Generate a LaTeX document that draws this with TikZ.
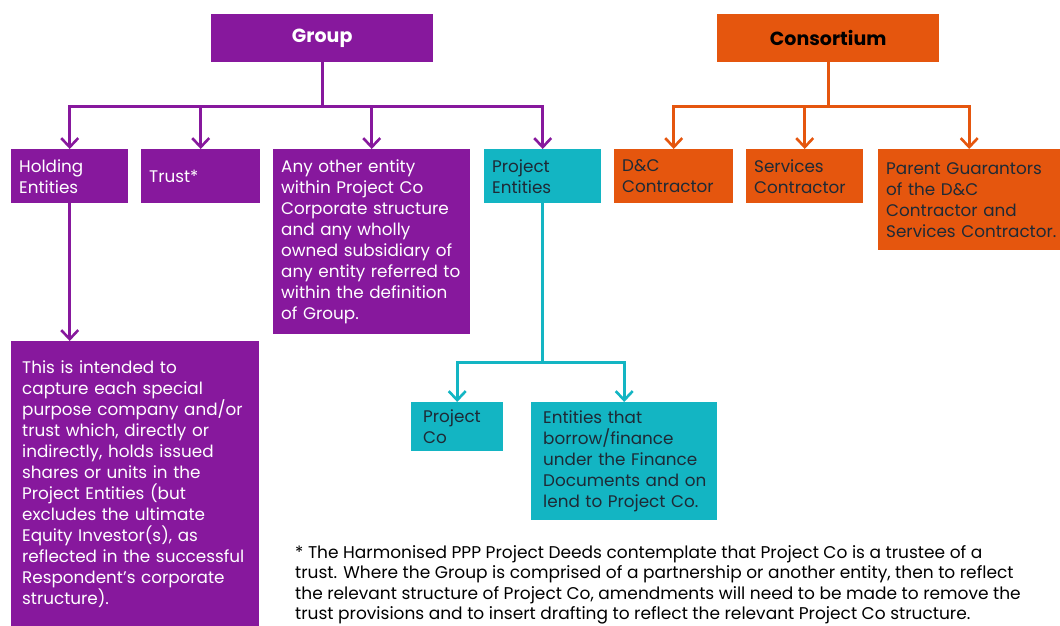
\documentclass[tikz,border=0pt]{standalone}
\usepackage{fontspec}
\setmainfont{Poppins}
\usetikzlibrary{arrows.meta}
\definecolor{vicpurple}{HTML}{87189D}
\definecolor{vicorange}{HTML}{E5560E}
\definecolor{victeal}{HTML}{13B5C3}
\definecolor{darktext}{HTML}{1E2A36}
\tikzset{
	box/.style={anchor=north west, inner xsep=8pt, inner ysep=0pt, align=left,
		font=\fontsize{16.8}{21}\selectfont},
	pbox/.style={box, fill=vicpurple, text=white},
	tbox/.style={box, fill=victeal, text=darktext},
	obox/.style={box, fill=vicorange, text=darktext},
	headbox/.style={anchor=north west, inner sep=0pt, minimum width=222pt, minimum height=48pt,
		font=\fontsize{19}{21}\selectfont\bfseries},
	link/.style={line width=2.6pt, -{Straight Barb[length=9pt,width=17pt]}},
	parr/.style={link, draw=vicpurple},
	tarr/.style={link, draw=victeal},
	oarr/.style={link, draw=vicorange}
}
\begin{document}
\begin{tikzpicture}[x=1pt, y=-1pt]
		\useasboundingbox (0, 0) rectangle (1060, 626);
		% top level
		\node[headbox, fill=vicpurple, text=white] (grp) at (211, 14) {Group};
		\node[headbox, fill=vicorange, text=black] (cons) at (717, 14) {Consortium};
		% group members
		\node[pbox, text width=101pt, minimum height=54pt] (hold) at (11, 149) {Holding\\Entities};
		\node[pbox, text width=103pt, minimum height=54pt] (trust) at (141, 149) {Trust*};
		\node[pbox, text width=181pt, minimum height=185pt] (other) at (273, 149)
			{Any other entity\\within Project Co\\Corporate structure\\and any wholly\\owned subsidiary of\\\mbox{any entity referred to}\\within the definition\\of Group.};
		\node[tbox, text width=101pt, minimum height=54pt] (proj) at (484, 149) {Project\\Entities};
		\node[pbox, inner xsep=11pt, text width=226pt, minimum height=285pt] (desc) at (11, 341)
			{This is intended to\\capture each special\\purpose company and/or\\trust which, directly or\\indirectly, holds issued\\shares or units in the\\Project Entities (but\\excludes the ultimate\\Equity Investor(s), as\\\mbox{reflected in the successful}\\Respondent's corporate\\structure).};
		\node[tbox, inner xsep=12pt, text width=68pt, minimum height=49pt] (pco) at (411, 402) {Project\\Co};
		\node[tbox, inner xsep=12pt, text width=162pt, minimum height=118pt] (fin) at (531, 402)
			{Entities that\\borrow/finance\\under the Finance\\\mbox{Documents and on}\\lend to Project Co.};
		% consortium members
		\node[obox, text width=103pt, minimum height=54pt] (dc) at (614, 149) {D\&C\\Contractor};
		\node[obox, text width=101pt, minimum height=54pt] (serv) at (746, 149) {Services\\Contractor};
		\node[obox, text width=166pt, minimum height=101pt] (parent) at (878, 149)
			{Parent Guarantors\\of the D\&C\\Contractor and\\\mbox{Services Contractor.}};
		% footnote
		\node[anchor=north west, inner sep=0pt, align=left, font=\fontsize{17}{20.6}\selectfont] (note) at (295, 545)
			{* The Harmonised PPP Project Deeds contemplate that Project Co is a trustee of a\\trust. Where the Group is comprised of a partnership or another entity, then to reflect\\the relevant structure of Project Co, amendments will need to be made to remove the\\trust provisions and to insert drafting to reflect the relevant Project Co structure.};
		% connectors
		\foreach \c in {hold, trust, other, proj}
			\draw[parr] (grp.south) -- ++(0, 44) -| (\c.north);
		\foreach \c in {dc, serv, parent}
			\draw[oarr] (cons.south) -- ++(0, 44) -| (\c.north);
		\draw[parr] (hold.south) -- (hold.south |- desc.north);
		\foreach \c in {pco, fin}
			\draw[tarr] (proj.south) -- ++(0, 159) -| (\c.north);
	\end{tikzpicture}
\end{document}
